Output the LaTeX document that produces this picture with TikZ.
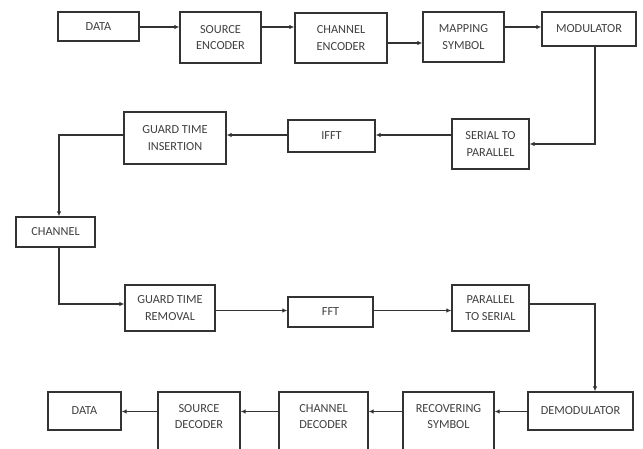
\documentclass[tikz,border=0pt]{standalone}
\usepackage{fontspec}
\setmainfont{Carlito}
\usetikzlibrary{arrows.meta,calc}
\begin{document}
\begin{tikzpicture}[x=1pt,y=-1pt,
  box/.style={draw=black!80, line width=1.3pt, rectangle, inner sep=0pt, align=center,
    font=\fontsize{12.3}{16.5}\selectfont, text=black!75},
  conn/.style={draw=black!80, line width=1.3pt, -{Latex[length=5pt,width=4.5pt]}}]
\useasboundingbox[fill=white] (0,0) rectangle (643,448);
% row 1
\node[box, minimum width=81, minimum height=29] (data1) at (98.5,26.5) {DATA};
\node[box, minimum width=81, minimum height=51] (srcenc) at (220.5,37.5) {SOURCE\\ENCODER};
\node[box, minimum width=92, minimum height=50] (chenc) at (341,38) {CHANNEL\\ENCODER};
\node[box, minimum width=81, minimum height=50] (map) at (463.5,37) {MAPPING\\SYMBOL};
\node[box, minimum width=94, minimum height=34] (mod) at (589,29) {MODULATOR};
% row 2
\node[box, minimum width=77, minimum height=50] (s2p) at (490.5,144) {SERIAL TO\\PARALLEL};
\node[box, minimum width=87, minimum height=32] (ifft) at (331.5,136) {IFFT};
\node[box, minimum width=102, minimum height=52] (gti) at (175,138) {GUARD TIME\\INSERTION};
% channel
\node[box, minimum width=79, minimum height=30] (channel) at (55.5,232) {CHANNEL};
% row 3
\node[box, minimum width=90, minimum height=46] (gtr) at (170,308) {GUARD TIME\\REMOVAL};
\node[box, minimum width=85, minimum height=30] (fft) at (330.5,312) {FFT};
\node[box, minimum width=77, minimum height=46] (p2s) at (490.5,308) {PARALLEL\\TO SERIAL};
% row 4
\node[box, minimum width=105, minimum height=38] (demod) at (580.5,411) {DEMODULATOR};
\node[box, minimum width=91, minimum height=60, label={[box, draw=none, yshift=5.5]center:{RECOVERING\\SYMBOL}}] (recsym) at (448.5,422) {};
\node[box, minimum width=89, minimum height=60, label={[box, draw=none, yshift=5.5]center:{CHANNEL\\DECODER}}] (chdec) at (323.5,422) {};
\node[box, minimum width=82, minimum height=60, label={[box, draw=none, yshift=5.5]center:{SOURCE\\DECODER}}] (srcdec) at (199,422) {};
\node[box, minimum width=73, minimum height=38] (data2) at (84.5,411) {DATA};
% helper coordinates
\coordinate (r1) at (0,27);
\coordinate (r1b) at (0,43);
\coordinate (mx) at (595,0);
\coordinate (r2) at (0,135);
\coordinate (cx) at (59,0);
\coordinate (r3a) at (0,304);
\coordinate (r3b) at (0,310.5);
\coordinate (r4) at (0,411.5);
% connectors
\draw[conn] (data1.east |- r1) -- (srcenc.west |- r1);
\draw[conn] (srcenc.east |- r1) -- (chenc.west |- r1);
\draw[conn] (chenc.east |- r1b) -- (map.west |- r1b);
\draw[conn] (map.east |- r1) -- (mod.west |- r1);
\draw[conn] (mod.south -| mx) |- (s2p.east);
\draw[conn] (s2p.west |- r2) -- (ifft.east |- r2);
\draw[conn] (ifft.west |- r2) -- (gti.east |- r2);
\draw[conn] (gti.west |- r2) -| (channel.north -| cx);
\draw[conn] (channel.south -| cx) |- (gtr.west |- r3a);
\draw[conn] (gtr.east |- r3b) -- (fft.west |- r3b);
\draw[conn] (fft.east |- r3b) -- (p2s.west |- r3b);
\draw[conn] (p2s.east |- r3a) -| (demod.north -| mx);
\draw[conn] (demod.west |- r4) -- (recsym.east |- r4);
\draw[conn] (recsym.west |- r4) -- (chdec.east |- r4);
\draw[conn] (chdec.west |- r4) -- (srcdec.east |- r4);
\draw[conn] (srcdec.west |- r4) -- (data2.east |- r4);
\end{tikzpicture}
\end{document}
